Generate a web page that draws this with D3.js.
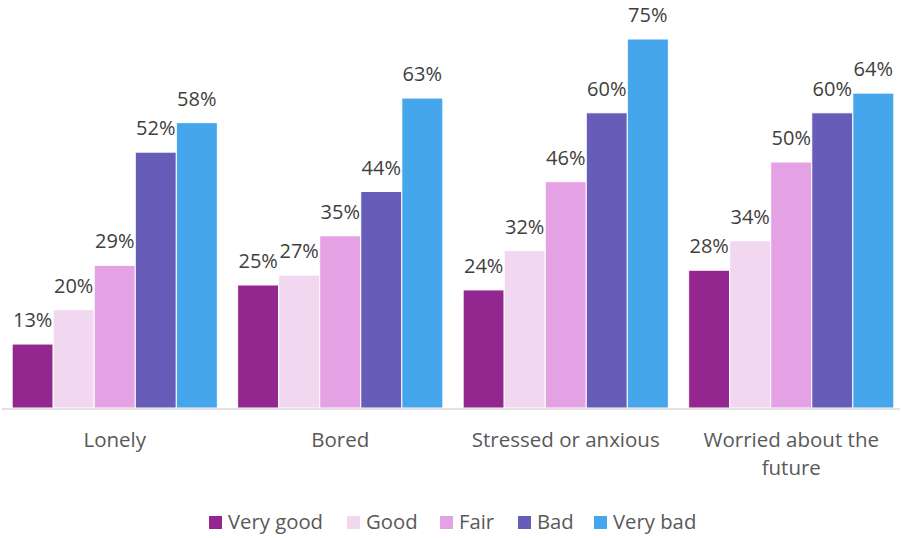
<!DOCTYPE html>
<html>
<head>
<meta charset="utf-8">
<script src="https://cdn.jsdelivr.net/npm/d3@7"></script>
<style>
  html, body { margin: 0; padding: 0; background: #fff; }
  svg { display: block; font-family: "Open Sans", "Noto Sans", sans-serif; }
</style>
</head>
<body>
<svg id="chart" width="902" height="538"></svg>
<script>
const categories = [["Lonely"], ["Bored"], ["Stressed or anxious"], ["Worried about the", "future"]];
const seriesNames = ["Very good", "Good", "Fair", "Bad", "Very bad"];
const seriesColors = ["#93278F", "#F2D7F0", "#E4A1E4", "#675CB7", "#45A6EC"];
const veryGood = [13, 25, 24, 28];
const good     = [20, 27, 32, 34];
const fair     = [29, 35, 46, 50];
const bad      = [52, 44, 60, 60];
const veryBad  = [58, 63, 75, 64];
const seriesValues = [veryGood, good, fair, bad, veryBad];

const svg = d3.select("#chart");
const catKeys = categories.map((c, i) => i);

const x0 = d3.scaleBand().domain(catKeys).range([2, 904])
  .paddingInner(0.09).paddingOuter(0.045);
const x1 = d3.scaleBand().domain(d3.range(seriesNames.length)).range([0, x0.bandwidth()]);
const y = d3.scaleLinear().domain([0, 80]).range([408, 14.4]);

const groups = svg.append("g").selectAll("g")
  .data(catKeys).join("g")
  .attr("transform", d => `translate(${x0(d)},0)`);

groups.selectAll("rect")
  .data(ci => seriesValues.map((vals, si) => ({ si, v: vals[ci] })))
  .join("rect")
  .attr("x", d => x1(d.si))
  .attr("y", d => y(d.v))
  .attr("width", x1.bandwidth())
  .attr("height", d => y(0) - y(d.v))
  .attr("fill", d => seriesColors[d.si])
  .attr("stroke", "#fff")
  .attr("stroke-width", 1);

groups.selectAll("text.val")
  .data(ci => seriesValues.map((vals, si) => ({ si, v: vals[ci] })))
  .join("text")
  .attr("class", "val")
  .attr("x", d => x1(d.si) + x1.bandwidth() / 2)
  .attr("y", d => y(d.v) - 17)
  .attr("text-anchor", "middle")
  .attr("font-size", 20)
  .attr("fill", "#404040")
  .text(d => d.v + "%");

// baseline
svg.append("line")
  .attr("x1", 2).attr("x2", 900)
  .attr("y1", 409).attr("y2", 409)
  .attr("stroke", "#d9d9d9").attr("stroke-width", 1.5);

// category labels
const catLabels = svg.append("g").selectAll("text")
  .data(catKeys).join("text")
  .attr("x", d => x0(d) + x0.bandwidth() / 2)
  .attr("y", 447)
  .attr("text-anchor", "middle")
  .attr("font-size", 20.5)
  .attr("fill", "#595959");
catLabels.selectAll("tspan")
  .data(d => categories[d].map(line => ({ line, x: x0(d) + x0.bandwidth() / 2 })))
  .join("tspan")
  .attr("x", d => d.x)
  .attr("dy", (d, i) => i === 0 ? 0 : 28)
  .text(d => d.line);

// legend
const legendX = [209, 347, 440, 518, 594];
const legend = svg.append("g").selectAll("g")
  .data(seriesNames).join("g")
  .attr("transform", (d, i) => `translate(${legendX[i]},516)`);
legend.append("rect")
  .attr("width", 13).attr("height", 13)
  .attr("fill", (d, i) => seriesColors[i]);
legend.append("text")
  .attr("x", 19).attr("y", 13)
  .attr("font-size", 20.3)
  .attr("fill", "#595959")
  .text(d => d);
</script>
</body>
</html>
